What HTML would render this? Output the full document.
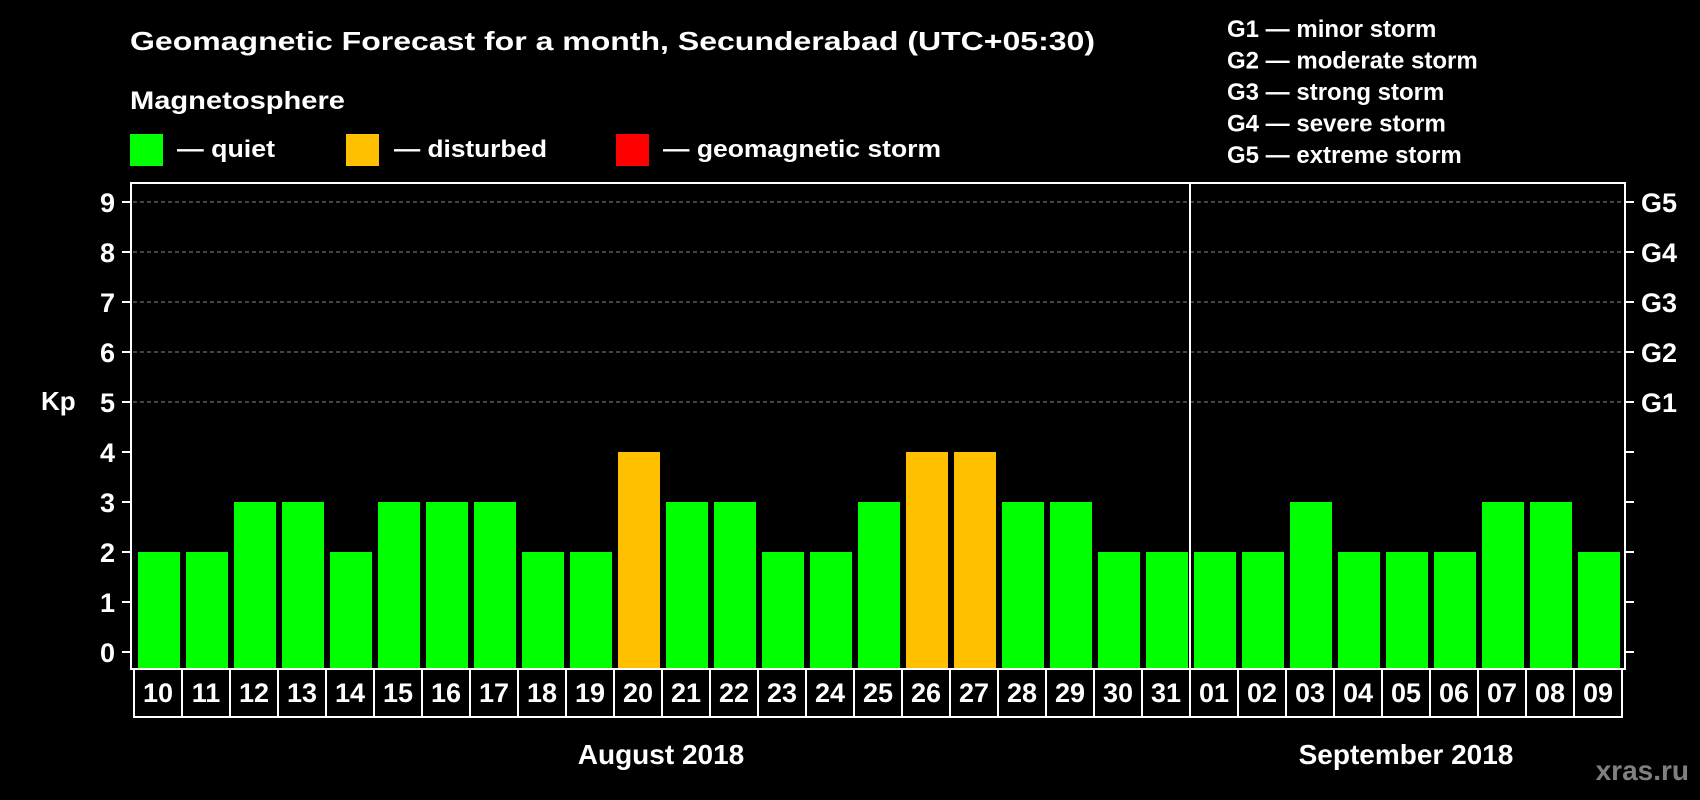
<!DOCTYPE html>
<html><head><meta charset="utf-8"><style>
html,body{margin:0;padding:0;background:#000;}
svg{display:block;font-family:"Liberation Sans",Arial,sans-serif;font-weight:bold;}
</style></head><body>
<svg id="chart" width="1700" height="800" viewBox="0 0 1700 800" xmlns="http://www.w3.org/2000/svg">
<rect width="1700" height="800" fill="#000"/>
<text x="130" y="50" fill="#fff" font-size="26" textLength="965" lengthAdjust="spacingAndGlyphs">Geomagnetic Forecast for a month, Secunderabad (UTC+05:30)</text>
<text x="130" y="109" fill="#fff" font-size="25" textLength="215" lengthAdjust="spacingAndGlyphs">Magnetosphere</text>
<g>
<rect x="130" y="134" width="33" height="32" fill="#00ff00"/>
<text x="177" y="157" fill="#fff" font-size="24" textLength="98" lengthAdjust="spacingAndGlyphs">— quiet</text></g>
<g>
<rect x="346" y="134" width="33" height="32" fill="#ffc000"/>
<text x="394" y="157" fill="#fff" font-size="24" textLength="153" lengthAdjust="spacingAndGlyphs">— disturbed</text></g>
<g>
<rect x="616" y="134" width="33" height="32" fill="#ff0000"/>
<text x="663" y="157" fill="#fff" font-size="24" textLength="278" lengthAdjust="spacingAndGlyphs">— geomagnetic storm</text></g>
<g id="glist"></g>
<g id="grid"></g>
<g id="bars"></g>
<rect x="131" y="183" width="1494" height="486" fill="none" stroke="#fff" stroke-width="2"/>
<g id="axes"></g>
<g id="days"></g>
<text x="41" y="410" fill="#fff" font-size="26">Kp</text>
<text x="661" y="764" fill="#fff" font-size="28" text-anchor="middle">August 2018</text>
<text x="1406" y="764" fill="#fff" font-size="28" text-anchor="middle">September 2018</text>
<text x="1689" y="780" fill="#808080" font-size="28" text-anchor="end">xras.ru</text>
</svg>
<script>
const days = ["10","11","12","13","14","15","16","17","18","19","20","21","22","23","24","25","26","27","28","29","30","31","01","02","03","04","05","06","07","08","09"];
const kpValues = [2,2,3,3,2,3,3,3,2,2,4,3,3,2,2,3,4,4,3,3,2,2,2,2,3,2,2,2,3,3,2];
const yTicks = [0,1,2,3,4,5,6,7,8,9];
const gLevels = [5,6,7,8,9];
const gLabels = ["G1","G2","G3","G4","G5"];
const gDescriptions = ["G1 — minor storm","G2 — moderate storm","G3 — strong storm","G4 — severe storm","G5 — extreme storm"];
const monthBreakIndex = 22;

const NS="http://www.w3.org/2000/svg";
const X0=134, STEP=48, Y0=652, UNIT=50, PLOT_BOTTOM=668;
const xs=i=>X0+i*STEP;
const ys=v=>Y0-v*UNIT;
function mk(tag,attrs,parent){const e=document.createElementNS(NS,tag);for(const k in attrs)e.setAttribute(k,attrs[k]);parent.appendChild(e);return e;}
const bars=document.getElementById('bars'),grid=document.getElementById('grid'),axes=document.getElementById('axes'),dayG=document.getElementById('days'),gl=document.getElementById('glist');

gDescriptions.forEach((t,i)=>{
  const e=mk('text',{x:1227,y:37+i*31.5,fill:'#fff','font-size':24},gl);
  
  
  e.textContent=t;
});
gLevels.forEach(v=>{
  const l=mk('line',{x1:133,x2:1623,y1:ys(v),y2:ys(v),stroke:'#888','stroke-width':1,'stroke-dasharray':'4,3'},grid);
  
  
});
kpValues.forEach((v,i)=>{
  const color=v>=5?'#ff0000':(v>=4?'#ffc000':'#00ff00');
  const r=mk('rect',{x:xs(i)+4,y:ys(v),width:42,height:PLOT_BOTTOM-ys(v),fill:color},bars);
  
  
});
yTicks.forEach(v=>{
  const t1=mk('line',{x1:122,x2:131,y1:ys(v),y2:ys(v),stroke:'#fff','stroke-width':2},axes);
  
  
  const t2=mk('line',{x1:1625,x2:1634,y1:ys(v),y2:ys(v),stroke:'#fff','stroke-width':2},axes);
  
  
  const lb=mk('text',{x:115,y:ys(v)+10,fill:'#fff','font-size':27,'text-anchor':'end'},axes);
  
  
  lb.textContent=v;
});
gLevels.forEach((v,i)=>{
  const lb=mk('text',{x:1641,y:ys(v)+10,fill:'#fff','font-size':27},axes);
  
  
  lb.textContent=gLabels[i];
});
const div=mk('line',{x1:xs(monthBreakIndex),x2:xs(monthBreakIndex),y1:183,y2:717,stroke:'#fff','stroke-width':2},axes);


days.forEach((d,i)=>{
  const b=mk('rect',{x:xs(i),y:669,width:STEP,height:48,fill:'none',stroke:'#fff','stroke-width':2},dayG);
  
  
  const t=mk('text',{x:xs(i)+STEP/2,y:702,fill:'#fff','font-size':27,'text-anchor':'middle'},dayG);
  
  
  t.textContent=d;
});
</script>
</body></html>
